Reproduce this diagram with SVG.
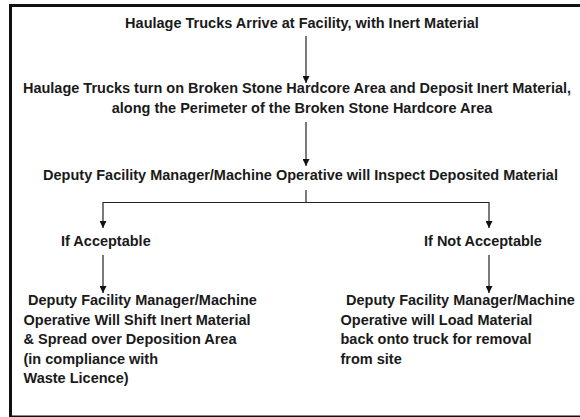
<svg xmlns="http://www.w3.org/2000/svg" width="580" height="417" viewBox="0 0 580 417">
<defs>
<style>
text{font-family:"Liberation Sans",Arial,sans-serif;font-weight:bold;font-size:14.5px;fill:#1a1a1a}
.c{text-anchor:middle}
.ln{stroke:#222;stroke-width:1.2;fill:none}
</style>
<marker id="ah" viewBox="0 0 8 8" markerWidth="7" markerHeight="7" refX="8" refY="4" orient="auto" markerUnits="userSpaceOnUse">
<path d="M0,0 L8,4 L0,8 z" fill="#111"/>
</marker>
</defs>
<rect x="0" y="0" width="580" height="417" fill="#fff"/>
<rect x="10.5" y="5.5" width="620" height="411.5" fill="none" stroke="#111" stroke-width="3"/>
<g id="n1"><text class="c" x="302" y="27.5">Haulage Trucks Arrive at Facility, with Inert Material</text></g>
<g id="n2"><text class="c" x="297" y="93">Haulage Trucks turn on Broken Stone Hardcore Area and Deposit Inert Material,</text><text class="c" x="302" y="113">along the Perimeter of the Broken Stone Hardcore Area</text></g>
<g id="n3"><text class="c" x="300.5" y="180">Deputy Facility Manager/Machine Operative will Inspect Deposited Material</text></g>
<g id="n4"><text x="61" y="246">If Acceptable</text></g>
<g id="n5"><text x="424" y="246">If Not Acceptable</text></g>
<g id="n6"><text x="28" y="305">Deputy Facility Manager/Machine</text><text x="23.5" y="324.5">Operative Will Shift Inert Material</text><text x="23.5" y="344">&amp; Spread over Deposition Area</text><text x="23.5" y="363.5">(in compliance with</text><text x="23.5" y="383">Waste Licence)</text></g>
<g id="n7"><text x="346" y="305">Deputy Facility Manager/Machine</text><text x="340.5" y="324.5">Operative will Load Material</text><text x="340.5" y="344">back onto truck for removal</text><text x="340.5" y="363.5">from site</text></g>
<g id="connectors">
<line class="ln" x1="306" y1="36" x2="306" y2="83" marker-end="url(#ah)"/>
<line class="ln" x1="306" y1="122" x2="306" y2="166" marker-end="url(#ah)"/>
<polyline class="ln" points="306,190 306,202.5"/>
<polyline class="ln" points="103,202.5 489,202.5"/>
<line class="ln" x1="103" y1="202" x2="103" y2="228" marker-end="url(#ah)"/>
<line class="ln" x1="489" y1="202" x2="489" y2="228" marker-end="url(#ah)"/>
<line class="ln" x1="103" y1="255" x2="103" y2="293" marker-end="url(#ah)"/>
<line class="ln" x1="489" y1="255" x2="489" y2="293" marker-end="url(#ah)"/>
</g>
</svg>
